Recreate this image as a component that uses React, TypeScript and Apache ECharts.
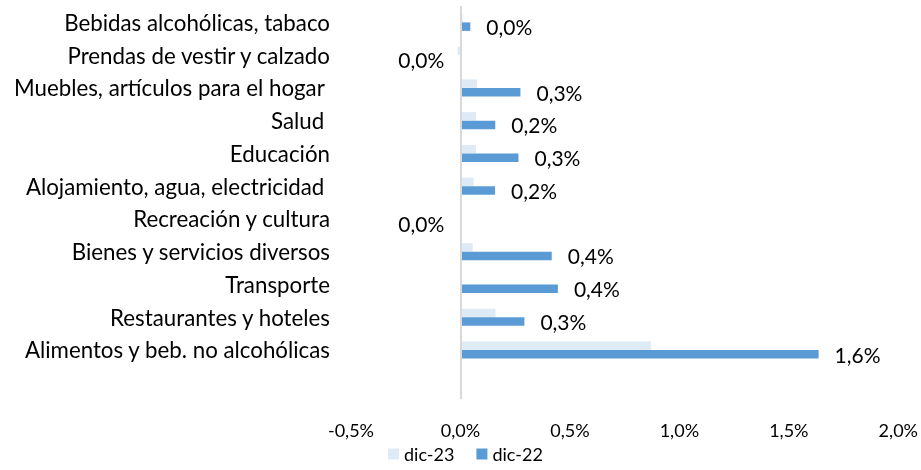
import React, { useEffect, useRef } from "react";
import * as echarts from "echarts";

// Categories listed bottom -> top (first entry is the blank slot under the lowest bar)
const categories = [
  "",
  "Alimentos y beb. no alcohólicas",
  "Restaurantes y hoteles",
  "Transporte",
  "Bienes y servicios diversos",
  "Recreación y cultura",
  "Alojamiento, agua, electricidad ",
  "Educación",
  "Salud ",
  "Muebles, artículos para el hogar ",
  "Prendas de vestir y calzado",
  "Bebidas alcohólicas, tabaco",
];

const dic23: (number | null)[] = [null, 0.87, 0.16, 0.0, 0.056, 0.0, 0.06, 0.071, 0.071, 0.076, -0.013, 0.01];
const dic22: (number | null)[] = [null, 1.636, 0.292, 0.445, 0.417, -0.001, 0.158, 0.265, 0.159, 0.274, -0.001, 0.045];

const xTicks = { min: -0.5, max: 2.0, interval: 0.5 };

const FONT = "Lato, 'Open Sans', sans-serif";
const fmt = (v: number) => {
  let s = v.toFixed(1);
  if (parseFloat(s) === 0) s = "0.0";
  return s.replace(".", ",") + "%";
};

export default function App() {
  const ref = useRef<HTMLDivElement>(null);
  useEffect(() => {
    if (!ref.current) return;
    const chart = echarts.init(ref.current, undefined, { renderer: "svg" });
    chart.setOption({
      animation: false,
      textStyle: { fontFamily: FONT },
      grid: { left: 351, right: 20, top: 6, bottom: 71, containLabel: false },
      legend: {
        data: ["dic-23", "dic-22"],
        bottom: 2,
        left: 383,
        itemWidth: 11,
        itemHeight: 11,
        itemGap: 22,
        icon: "rect",
        textStyle: { fontFamily: FONT, fontSize: 18, color: "#000" },
      },
      xAxis: {
        type: "value",
        min: xTicks.min,
        max: xTicks.max,
        interval: xTicks.interval,
        axisLine: { show: false },
        axisTick: { show: false },
        splitLine: { show: false },
        axisLabel: {
          formatter: (v: number) => fmt(v),
          fontSize: 18,
          color: "#000",
          margin: 22,
          fontFamily: FONT,
        },
      },
      yAxis: {
        type: "category",
        data: categories,
        axisLine: { show: false, onZero: false },
        axisTick: { show: false },
        axisLabel: { fontSize: 22.3, color: "#000", margin: 21, fontFamily: FONT },
      },
      series: [
        {
          name: "dic-23",
          type: "bar",
          data: dic23,
          barWidth: 8.5,
          barGap: "0%",
          itemStyle: { color: "#DEEBF7" },
          markLine: {
            silent: true,
            symbol: "none",
            label: { show: false },
            lineStyle: { color: "#D9D9D9", width: 2, type: "solid" },
            data: [{ xAxis: 0 }],
          },
        },
        {
          name: "dic-22",
          type: "bar",
          data: dic22.map((v) =>
            v === null
              ? null
              : {
                  value: v,
                  label: { position: v < 0 ? "left" : "right" },
                }
          ),
          barWidth: 8.5,
          barGap: "0%",
          itemStyle: { color: "#5B9BD5" },
          label: {
            show: true,
            distance: 16,
            formatter: (p: any) => fmt(p.value),
            fontSize: 21,
            color: "#000",
            fontFamily: FONT,
          },
        },
      ],
    });
    return () => chart.dispose();
  }, []);
  return (
    <div
      ref={ref}
      style={{ position: "fixed", left: 0, top: 0, width: 921, height: 470 }}
    />
  );
}
